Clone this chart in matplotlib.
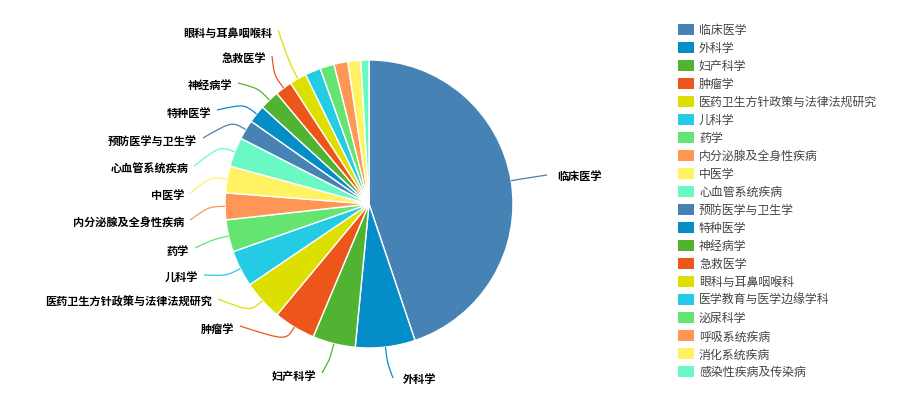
import numpy as np
import matplotlib
matplotlib.use("Agg")
import matplotlib.pyplot as plt
from matplotlib.patches import Rectangle
from matplotlib.path import Path
from matplotlib.patches import PathPatch

plt.rcParams['font.family'] = ['Noto Sans CJK SC', 'DejaVu Sans']

# 学科分布
names = ['临床医学', '外科学', '妇产科学', '肿瘤学', '医药卫生方针政策与法律法规研究',
         '儿科学', '药学', '内分泌腺及全身性疾病', '中医学', '心血管系统疾病',
         '预防医学与卫生学', '特种医学', '神经病学', '急救医学', '眼科与耳鼻咽喉科',
         '医学教育与医学边缘学科', '泌尿科学', '呼吸系统疾病', '消化系统疾病', '感染性疾病及传染病']
values = [448, 67, 48, 47, 45, 41, 36, 30, 30, 33,
          22, 20, 22, 19, 19, 17.5, 16, 15.5, 14.5, 9]

palette = ['#4682B4', '#058DC7', '#50B432', '#ED561B', '#DDDF00',
           '#24CBE5', '#64E572', '#FF9655', '#FFF263', '#6AF9C4']
colors = [palette[i % len(palette)] for i in range(len(values))]

W, H = 899, 410
cx, cy, R = 369, 205, 144          # pie centre / radius in pixels (y down)

# where each label line ends (pixels, y down); only the first 15 are labelled
label_ends = [(547, 176), (393, 379), (322, 374), (240, 327), (218, 300),
              (204, 276), (195, 249), (190, 221), (190, 194), (194, 167),
              (203, 139), (217, 111), (238, 84), (272, 57), (278, 31)]


def py(y):
    return H - y


fig = plt.figure(figsize=(W / 100, H / 100), dpi=100)
ax = fig.add_axes([0, 0, 1, 1])
ax.pie(values, colors=colors, startangle=90, counterclock=False,
       radius=R, center=(cx, py(cy)),
       wedgeprops=dict(edgecolor='white', linewidth=1))
ax.set_xlim(0, W)
ax.set_ylim(0, H)
ax.set_aspect('equal')
ax.axis('off')

# leader lines + labels
total = float(sum(values))
cum = np.cumsum([0] + values)
for i, (ex, ey) in enumerate(label_ends):
    mid = (cum[i] + cum[i + 1]) / 2 / total * 2 * np.pi   # clockwise from top
    dx, dy = np.sin(mid), -np.cos(mid)                   # dy in screen (down)
    p0 = (cx + R * dx, cy + R * dy)
    p1 = (cx + (R + 16) * dx, cy + (R + 16) * dy)
    verts = [(p0[0], py(p0[1])), (p1[0], py(p1[1])), (p1[0], py(p1[1])),
             (ex, py(ey))]
    path = Path(verts, [Path.MOVETO, Path.CURVE4, Path.CURVE4, Path.CURVE4])
    ax.add_patch(PathPatch(path, fill=False, edgecolor=colors[i],
                           linewidth=0.9))
    if ex > cx + 20 or i == 1:
        ax.text(ex + 10, py(ey + 1), names[i], ha='left', va='center',
                fontsize=8, fontweight='bold', color='black')
    else:
        ax.text(ex - 6, py(ey + 2), names[i], ha='right', va='center',
                fontsize=8, fontweight='bold', color='black')

# legend
for i, name in enumerate(names):
    yc = 30 + i * 18.05
    ax.add_patch(Rectangle((678, py(yc + 5.5)), 16, 11, facecolor=colors[i],
                           edgecolor='none'))
    ax.text(699, py(yc), name, ha='left', va='center', fontsize=8.6,
            color='#444444')

fig.savefig('out.png', dpi=100)
